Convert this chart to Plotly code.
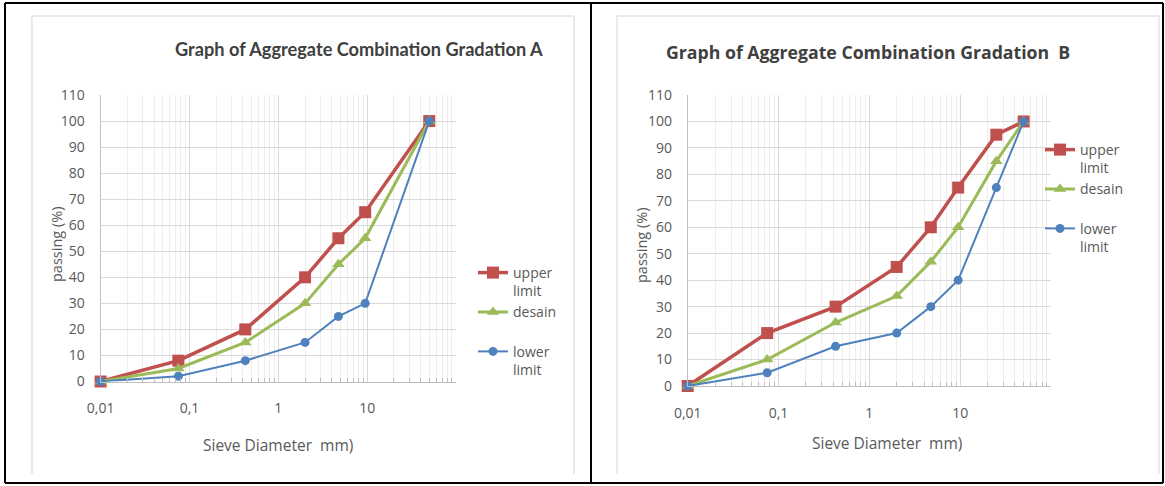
import plotly.graph_objects as go

W, H = 1165, 486

# ---------------- data ----------------
sieve_a = [0.01, 0.075, 0.425, 2.0, 4.75, 9.5, 50]
upper_a = [0, 8, 20, 40, 55, 65, 100]
desain_a = [0, 5, 15, 30, 45, 55, 100]
lower_a = [0, 2, 8, 15, 25, 30, 100]

sieve_b = [0.01, 0.075, 0.425, 2.0, 4.75, 9.5, 25, 50]
upper_b = [0, 20, 30, 45, 60, 75, 95, 100]
desain_b = [0, 10, 24, 34, 47, 60, 85, 100]
lower_b = [0, 5, 15, 20, 30, 40, 75, 100]

series_names = ["upper<br>limit", "desain<br> ", "lower<br>limit"]
x_tickvals = [0.01, 0.1, 1, 10]
x_ticktext = ["0,01", "0,1", "1", "10"]
y_tickvals = [0, 10, 20, 30, 40, 50, 60, 70, 80, 90, 100, 110]
minor_x = [k * d for d in (0.01, 0.1, 1, 10) for k in range(2, 10)]

titles = ["Graph of Aggregate Combination Gradation A",
          "Graph of Aggregate Combination Gradation\u00a0 B"]
x_title = "Sieve Diameter\u00a0 mm)"
y_title = "passing (%)"

RED, GREEN, BLUE = "#C0504D", "#9BBB59", "#4F81BD"
TXT = "#595959"

def px(x):
    return x / W

def py(y):
    return 1 - y / H

fig = go.Figure()

styles = [
    dict(color=RED, width=3.5, symbol="square", size=12),
    dict(color=GREEN, width=3, symbol="triangle-up", size=11),
    dict(color=BLUE, width=2, symbol="circle", size=9),
]

for panel, (sx, series) in enumerate([(sieve_a, [upper_a, desain_a, lower_a]),
                                      (sieve_b, [upper_b, desain_b, lower_b])]):
    xa = "x" if panel == 0 else "x2"
    ya = "y" if panel == 0 else "y2"
    lg = "legend" if panel == 0 else "legend2"
    for name, vals, st in zip(series_names, series, styles):
        fig.add_trace(go.Scatter(
            x=sx, y=vals, name=name, mode="lines+markers",
            xaxis=xa, yaxis=ya, legend=lg, cliponaxis=False,
            line=dict(color=st["color"], width=st["width"]),
            marker=dict(color=st["color"], symbol=st["symbol"], size=st["size"]),
        ))

def xaxis_cfg(domain):
    return dict(
        type="log", domain=domain, range=[-2, 2],
        tickmode="array", tickvals=x_tickvals, ticktext=x_ticktext,
        showgrid=True, gridcolor="#D9D9D9", gridwidth=1,
        showline=True, linecolor="#BFBFBF", linewidth=1,
        ticks="", ticklabelstandoff=14, automargin=False,
        tickfont=dict(family="Open Sans", size=14, color=TXT),
        zeroline=False,
        minor=dict(tickvals=minor_x, showgrid=True, gridcolor="#EDEDED",
                   ticks="inside", ticklen=4, tickcolor="#BFBFBF"),
    )

def yaxis_cfg(domain, anchor):
    return dict(
        domain=domain, range=[0, 110], anchor=anchor,
        tickmode="array", tickvals=y_tickvals,
        showgrid=True, gridcolor="#D9D9D9", gridwidth=1,
        showline=True, linecolor="#BFBFBF", linewidth=1,
        ticks="", ticklabelstandoff=12, zeroline=False, automargin=False,
        tickfont=dict(family="Open Sans", size=14, color=TXT),
    )

fig.update_layout(
    width=W, height=H,
    margin=dict(l=0, r=0, t=0, b=0, pad=0, autoexpand=False),
    paper_bgcolor="white", plot_bgcolor="white",
    xaxis=dict(**xaxis_cfg([px(100.6), px(456)]), anchor="y"),
    yaxis=yaxis_cfg([py(381.5), py(95)], "x"),
    xaxis2=dict(**xaxis_cfg([px(687.7), px(1051)]), anchor="y2"),
    yaxis2=yaxis_cfg([py(386), py(95)], "x2"),
    legend=dict(x=px(473), y=py(257), xanchor="left", yanchor="top",
                valign="top", bgcolor="rgba(0,0,0,0)",
                font=dict(family="Open Sans", size=14, color=TXT),
                itemwidth=30, tracegroupgap=0),
    legend2=dict(x=px(1040), y=py(134), xanchor="left", yanchor="top",
                 valign="top", bgcolor="rgba(0,0,0,0)",
                 font=dict(family="Open Sans", size=14, color=TXT),
                 itemwidth=30, tracegroupgap=0),
    showlegend=True,
)

ann = []
# titles
ann.append(dict(text="<b>" + titles[0] + "</b>", x=px(359), y=py(49),
                font=dict(family="Lato", size=18.2, color="#404040")))
ann.append(dict(text="<b>" + titles[1] + "</b>", x=px(868), y=py(52),
                font=dict(family="Open Sans", size=17.7, color="#404040")))
# axis titles
for cx, cy in [(278, 445), (887, 443)]:
    ann.append(dict(text=x_title, x=px(cx), y=py(cy),
                    font=dict(family="Open Sans", size=15.5, color=TXT)))
for cx, cy in [(56, 245), (641, 245)]:
    ann.append(dict(text=y_title, x=px(cx), y=py(cy), textangle=-90,
                    font=dict(family="Open Sans", size=14.5, color=TXT)))
for a in ann:
    a.update(xref="paper", yref="paper", showarrow=False,
             xanchor="center", yanchor="middle")
fig.update_layout(annotations=ann)

shapes = []
# light grey chart-area frames (left, top, right)
for l, r in [(32, 574), (617, 1159)]:
    for x0, y0, x1, y1 in [(l, 16, l, 474), (l, 16, r, 16), (r, 16, r, 474)]:
        shapes.append(dict(type="line", x0=px(x0), y0=py(y0), x1=px(x1), y1=py(y1),
                           line=dict(color="#E3E3E3", width=1.5)))
# black outer borders
for x0, y0, x1, y1 in [(5, 3, 1163, 3), (5, 483, 1163, 483),
                       (5, 3, 5, 483), (591, 3, 591, 483), (1163, 3, 1163, 483)]:
    shapes.append(dict(type="line", x0=px(x0), y0=py(y0), x1=px(x1), y1=py(y1),
                       line=dict(color="black", width=2)))
for s in shapes:
    s.update(xref="paper", yref="paper")
fig.update_layout(shapes=shapes)

fig.write_html("out.html")
